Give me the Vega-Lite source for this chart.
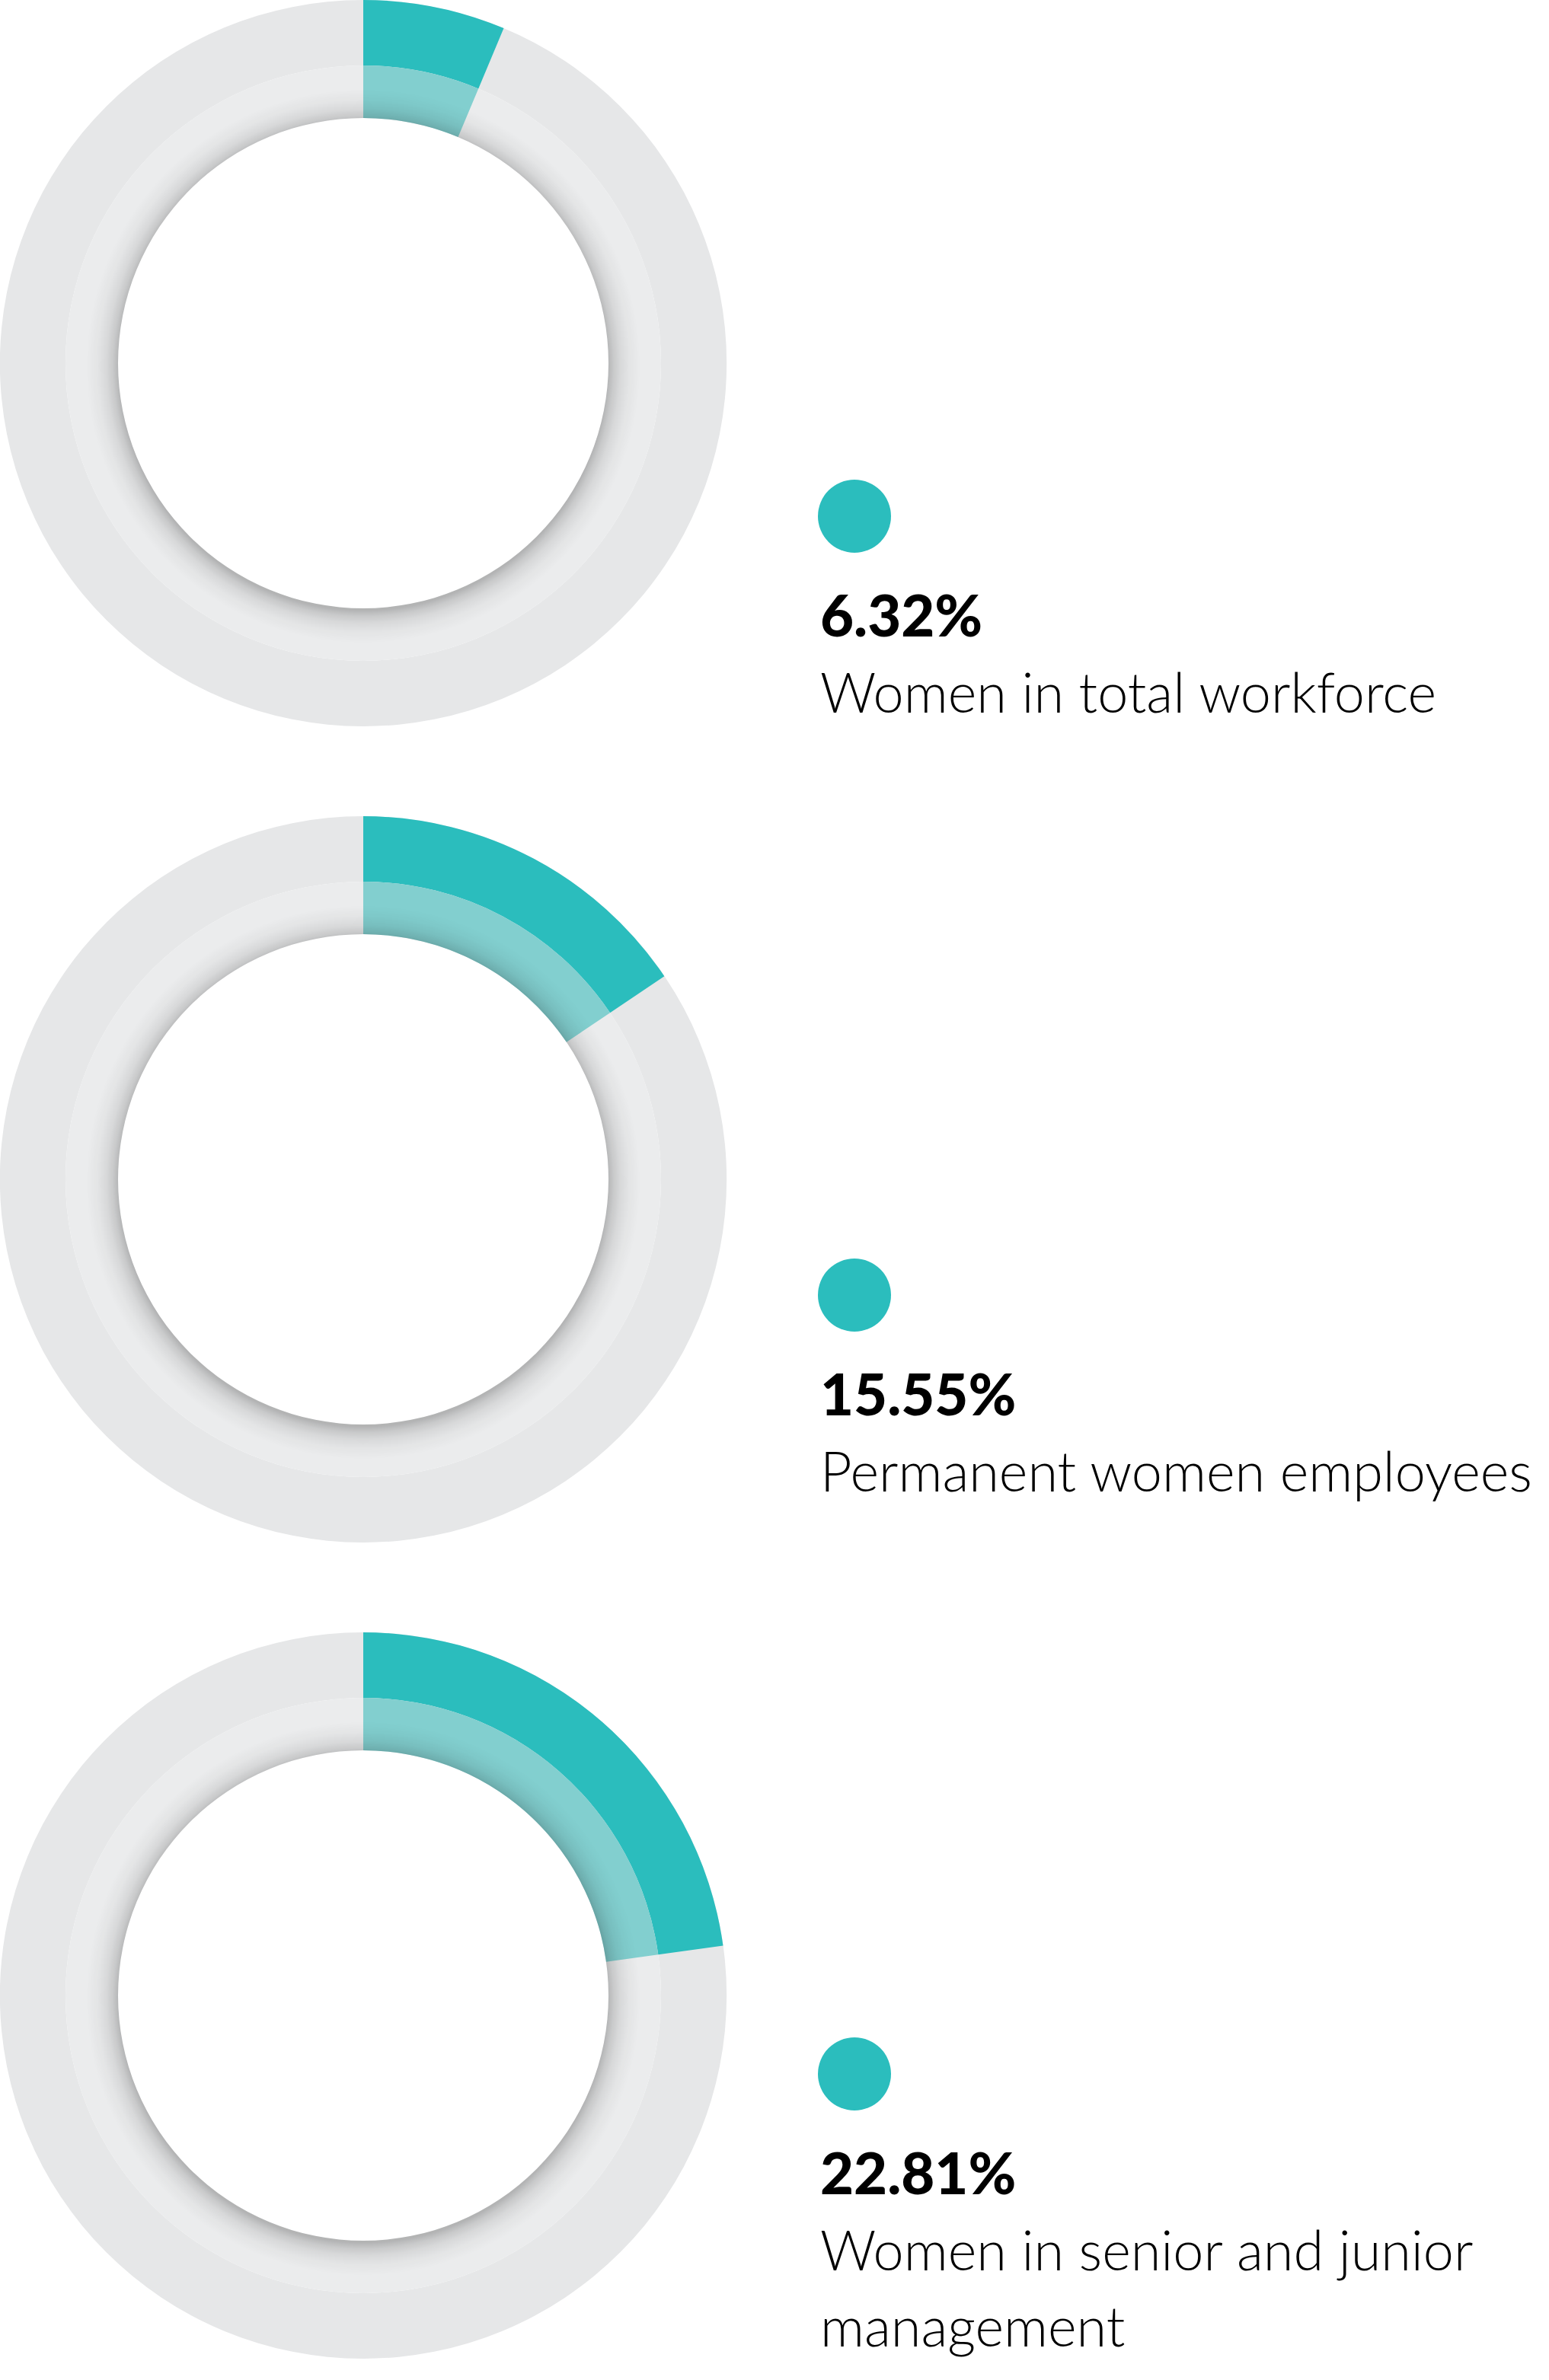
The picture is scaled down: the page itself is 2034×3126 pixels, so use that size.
{
  "$schema": "https://vega.github.io/schema/vega-lite/v6.json",
  "width": 2034,
  "height": 3126,
  "padding": 0,
  "autosize": {"type": "none"},
  "background": "#ffffff",
  "config": {"view": {"stroke": null}},
  "data": {
    "values": [
      {"label": "Women in total workforce", "share": 0.0632, "lines": ["Women in total workforce"]},
      {"label": "Permanent women employees", "share": 0.1555, "lines": ["Permanent women employees"]},
      {"label": "Women in senior and junior management", "share": 0.2281, "lines": ["Women in senior and junior", "management"]}
    ]
  },
  "resolve": {"scale": {"y": "independent"}},
  "layer": [
    {
      "mark": {"type": "arc", "radius": 477, "radius2": 391, "theta": 0, "theta2": 6.2832, "fill": "#e6e7e8"},
      "encoding": {
        "x": {"datum": "donut", "type": "nominal", "scale": {"type": "point", "domain": ["donut", "text"], "range": [477, 1077], "padding": 0}, "axis": null},
        "y": {"field": "label", "type": "nominal", "sort": null, "scale": {"type": "point", "range": [477, 2621], "padding": 0}, "axis": null}
      }
    },
    {
      "mark": {"type": "arc", "radius": 391, "radius2": 322, "theta": 0, "theta2": 6.2832, "fill": "#ebeced"},
      "encoding": {
        "x": {"datum": "donut", "type": "nominal", "axis": null},
        "y": {"field": "label", "type": "nominal", "sort": null, "scale": {"type": "point", "range": [477, 2621], "padding": 0}, "axis": null}
      }
    },
    {
      "mark": {"type": "arc", "radius": 477, "radius2": 391, "fill": "#2bbdbd"},
      "encoding": {
        "x": {"datum": "donut", "type": "nominal", "axis": null},
        "y": {"field": "label", "type": "nominal", "sort": null, "scale": {"type": "point", "range": [477, 2621], "padding": 0}, "axis": null},
        "theta": {"field": "share", "type": "quantitative", "stack": null, "scale": {"domain": [0, 1], "range": [0, 6.2832], "zero": true}}
      }
    },
    {
      "mark": {"type": "arc", "radius": 391, "radius2": 322, "fill": "#82cfcf"},
      "encoding": {
        "x": {"datum": "donut", "type": "nominal", "axis": null},
        "y": {"field": "label", "type": "nominal", "sort": null, "scale": {"type": "point", "range": [477, 2621], "padding": 0}, "axis": null},
        "theta": {"field": "share", "type": "quantitative", "stack": null, "scale": {"domain": [0, 1], "range": [0, 6.2832], "zero": true}}
      }
    },
    {
      "mark": {
        "type": "arc", "radius": 391, "radius2": 322, "theta": 0, "theta2": 6.2832,
        "fill": {
          "gradient": "radial", "x1": 0.5, "y1": 0.505, "r1": 0, "x2": 0.5, "y2": 0.505, "r2": 0.5,
          "stops": [
            {"offset": 0, "color": "rgba(0,0,0,0.24)"},
            {"offset": 0.82, "color": "rgba(0,0,0,0.24)"},
            {"offset": 0.84, "color": "rgba(0,0,0,0.15)"},
            {"offset": 0.865, "color": "rgba(0,0,0,0.08)"},
            {"offset": 0.895, "color": "rgba(0,0,0,0.03)"},
            {"offset": 0.93, "color": "rgba(0,0,0,0)"},
            {"offset": 1, "color": "rgba(0,0,0,0)"}
          ]
        }
      },
      "encoding": {
        "x": {"datum": "donut", "type": "nominal", "axis": null},
        "y": {"field": "label", "type": "nominal", "sort": null, "scale": {"type": "point", "range": [477, 2621], "padding": 0}, "axis": null}
      }
    },
    {
      "mark": {"type": "point", "shape": "circle", "filled": true, "size": 9216, "color": "#2bbdbd", "opacity": 1, "xOffset": 45},
      "encoding": {
        "x": {"datum": "text", "type": "nominal", "axis": null},
        "y": {"field": "label", "type": "nominal", "sort": null, "scale": {"type": "point", "range": [678, 2724], "padding": 0}, "axis": null}
      }
    },
    {
      "mark": {"type": "text", "align": "left", "baseline": "alphabetic", "dy": 158, "font": "Lato", "fontWeight": 900, "fontSize": 76, "color": "#000000"},
      "encoding": {
        "x": {"datum": "text", "type": "nominal", "axis": null},
        "y": {"field": "label", "type": "nominal", "sort": null, "scale": {"type": "point", "range": [678, 2724], "padding": 0}, "axis": null},
        "text": {"field": "share", "type": "quantitative", "format": ".2%"}
      }
    },
    {
      "mark": {"type": "text", "align": "left", "baseline": "alphabetic", "dy": 258, "lineHeight": 100, "font": "Lato", "fontWeight": 300, "fontSize": 72, "color": "#000000"},
      "encoding": {
        "x": {"datum": "text", "type": "nominal", "axis": null},
        "y": {"field": "label", "type": "nominal", "sort": null, "scale": {"type": "point", "range": [678, 2724], "padding": 0}, "axis": null},
        "text": {"field": "lines", "type": "nominal"}
      }
    }
  ]
}
